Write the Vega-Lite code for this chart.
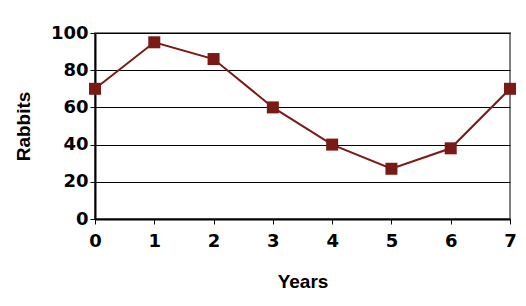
{
  "$schema": "https://vega.github.io/schema/vega-lite/v6.json",
  "autosize": {"type": "none"},
  "width": 415,
  "height": 186,
  "padding": {"left": 95, "top": 33, "right": 16, "bottom": 87},
  "background": "white",
  "config": {
    "view": {"stroke": "#808080", "strokeWidth": 2},
    "font": "Liberation Sans"
  },
  "data": {
    "values": [
      {"year": 0, "rabbits": 70},
      {"year": 1, "rabbits": 95},
      {"year": 2, "rabbits": 86},
      {"year": 3, "rabbits": 60},
      {"year": 4, "rabbits": 40},
      {"year": 5, "rabbits": 27},
      {"year": 6, "rabbits": 38},
      {"year": 7, "rabbits": 70}
    ]
  },
  "mark": {"type": "line", "color": "#7b1a15", "strokeWidth": 2, "point": {"shape": "square", "size": 144, "filled": true, "color": "#7b1a15", "opacity": 1}},
  "encoding": {
    "x": {
      "field": "year", "type": "quantitative",
      "scale": {"domain": [0, 7], "nice": false, "zero": false},
      "axis": {
        "title": "Years", "values": [0,1,2,3,4,5,6,7], "format": "d",
        "grid": false, "domainColor": "black", "domainWidth": 2,
        "tickColor": "black", "tickSize": 5, "tickWidth": 1,
        "labelFont": "DejaVu Sans", "labelFontSize": 18, "labelFontWeight": "bold", "labelColor": "black",
        "labelPadding": 8, "labelFlush": false,
        "titleFont": "Liberation Sans", "titleFontSize": 19, "titleFontWeight": "bold", "titleColor": "black",
        "titlePadding": 22
      }
    },
    "y": {
      "field": "rabbits", "type": "quantitative",
      "scale": {"domain": [0, 100], "nice": false},
      "axis": {
        "title": "Rabbits", "values": [0,20,40,60,80,100],
        "grid": true, "gridColor": "black", "gridWidth": 1,
        "domainColor": "black", "domainWidth": 2,
        "tickColor": "black", "tickSize": 5, "tickWidth": 1,
        "labelFont": "DejaVu Sans", "labelFontSize": 18, "labelFontWeight": "bold", "labelColor": "black",
        "labelPadding": 2, "labelFlush": false,
        "titleFont": "Liberation Sans", "titleFontSize": 19, "titleFontWeight": "bold", "titleColor": "black",
        "titlePadding": 17
      }
    }
  }
}
